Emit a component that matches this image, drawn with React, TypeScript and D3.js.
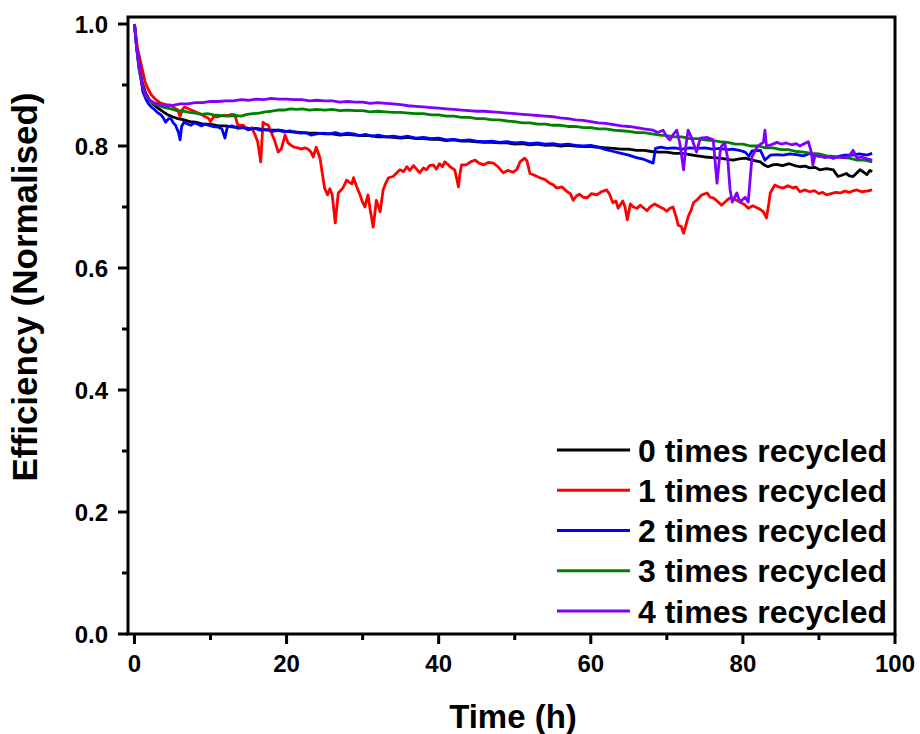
import React from "react";
import * as d3 from "d3";

const seriesNames = ["0 times recycled", "1 times recycled", "2 times recycled", "3 times recycled", "4 times recycled"];
const seriesColors = ["#000000", "#ff0000", "#0000ff", "#008000", "#8000ff"];
const xTicks = [0, 20, 40, 60, 80, 100];
const xTickLabels = ["0", "20", "40", "60", "80", "100"];
const yTicks = [0, 0.2, 0.4, 0.6, 0.8, 1.0];
const yTickLabels = ["0.0", "0.2", "0.4", "0.6", "0.8", "1.0"];
const xMinor = [10, 30, 50, 70, 90];
const yMinor = [0.1, 0.3, 0.5, 0.7, 0.9];

const s0: [number, number][] = [[0,1.0],[0.3,0.96],[0.6,0.93],[1.0,0.905],[1.5,0.886],[2.0,0.875],[2.5,0.868],[3.1,0.862],[3.8,0.856],[4.4,0.851],[5.0,0.848],[5.7,0.845],[6.5,0.843],[7.3,0.84],[8,0.839],[9,0.836],[10,0.836],[11,0.833],[12,0.833],[13,0.831],[14,0.831],[15,0.829],[16,0.829],[17,0.827],[18,0.826],[19,0.826],[20,0.824],[21,0.823],[22,0.822],[23,0.821],[24,0.821],[25,0.82],[26,0.82],[27,0.818],[28,0.819],[29,0.818],[30,0.817],[31,0.817],[32,0.815],[33,0.815],[34,0.814],[35,0.813],[36,0.814],[37,0.812],[38,0.812],[39,0.811],[40,0.811],[41,0.809],[42,0.81],[43,0.808],[44,0.808],[45,0.807],[46,0.806],[47,0.806],[48,0.805],[49,0.805],[50,0.803],[51,0.804],[52,0.802],[53,0.803],[54,0.801],[55,0.802],[56,0.8],[57,0.801],[58,0.8],[59,0.799],[60,0.799],[61,0.798],[62,0.797],[63,0.796],[64,0.795],[65,0.795],[66,0.793],[67,0.793],[68,0.791],[69,0.79],[70,0.79],[71,0.788],[72,0.788],[73,0.786],[74,0.784],[75,0.782],[76,0.781],[77,0.78],[78,0.778],[78.7,0.777],[79.5,0.779],[80.3,0.78],[81.2,0.777],[82.3,0.774],[82.8,0.769],[83.3,0.766],[83.9,0.769],[84.4,0.77],[85.2,0.768],[86.1,0.771],[86.8,0.768],[87.5,0.766],[88.2,0.767],[88.8,0.764],[89.5,0.765],[90.1,0.761],[91.0,0.763],[91.9,0.761],[92.2,0.755],[92.5,0.75],[93.0,0.752],[93.6,0.755],[94.0,0.751],[94.5,0.75],[95.0,0.756],[95.4,0.761],[95.9,0.757],[96.3,0.753],[96.7,0.76],[97,0.758]];

const s1: [number, number][] = [[0,1.0],[0.4,0.96],[0.9,0.933],[1.4,0.905],[1.8,0.893],[2.2,0.884],[2.8,0.876],[3.5,0.870],[4.2,0.868],[4.8,0.867],[5.3,0.862],[5.7,0.859],[6.0,0.848],[6.3,0.86],[6.6,0.864],[7.3,0.86],[8.0,0.856],[8.8,0.852],[9.3,0.848],[9.7,0.846],[10.0,0.84],[10.4,0.848],[11.0,0.848],[11.6,0.85],[12.3,0.85],[12.8,0.852],[13.2,0.851],[13.6,0.834],[14.3,0.834],[14.9,0.826],[15.4,0.83],[15.8,0.82],[16.2,0.807],[16.6,0.774],[16.9,0.839],[17.2,0.836],[17.6,0.834],[18.0,0.822],[18.4,0.81],[18.9,0.79],[19.3,0.795],[19.8,0.818],[20.2,0.805],[20.6,0.801],[21.0,0.798],[21.5,0.797],[21.9,0.795],[22.4,0.797],[22.8,0.795],[23.2,0.79],[23.5,0.782],[23.9,0.798],[24.4,0.78],[24.7,0.755],[25.0,0.731],[25.4,0.72],[25.7,0.73],[26.0,0.72],[26.4,0.674],[26.8,0.723],[27.4,0.731],[27.9,0.744],[28.3,0.74],[28.6,0.738],[28.8,0.748],[29.2,0.734],[29.6,0.722],[29.9,0.711],[30.3,0.70],[30.7,0.72],[31.0,0.695],[31.4,0.667],[31.8,0.711],[32.3,0.692],[32.7,0.728],[33.0,0.738],[33.4,0.748],[34,0.75],[34.5,0.756],[34.9,0.761],[35.4,0.758],[35.8,0.766],[36.2,0.76],[36.7,0.768],[37.1,0.762],[37.5,0.756],[38.0,0.764],[38.4,0.761],[38.8,0.768],[39.3,0.769],[39.7,0.762],[40.1,0.771],[40.5,0.766],[40.8,0.774],[41.2,0.77],[41.5,0.766],[42.1,0.761],[42.4,0.745],[42.6,0.733],[42.8,0.755],[43.0,0.769],[43.6,0.769],[44.2,0.774],[44.8,0.777],[45.3,0.772],[45.9,0.769],[46.5,0.773],[47.2,0.772],[47.8,0.766],[48.5,0.756],[49.1,0.76],[49.8,0.757],[50.3,0.762],[50.7,0.774],[51.3,0.78],[51.6,0.776],[52.0,0.755],[52.6,0.752],[53.3,0.748],[54.0,0.745],[54.6,0.739],[55.1,0.736],[55.5,0.731],[56.2,0.733],[56.9,0.725],[57.3,0.722],[57.7,0.711],[58.1,0.718],[58.5,0.721],[59.0,0.716],[59.5,0.715],[60.1,0.722],[60.8,0.72],[61.4,0.725],[62.1,0.728],[62.5,0.72],[62.9,0.707],[63.3,0.71],[63.6,0.698],[64.2,0.71],[64.5,0.70],[64.8,0.679],[65.2,0.705],[65.6,0.70],[66.1,0.698],[66.5,0.703],[67.0,0.698],[67.4,0.694],[67.8,0.70],[68.4,0.705],[69.1,0.70],[69.6,0.697],[70.0,0.693],[70.4,0.698],[70.8,0.70],[71.2,0.685],[71.5,0.67],[71.9,0.668],[72.2,0.657],[72.5,0.67],[72.8,0.684],[73.2,0.695],[73.5,0.707],[74.0,0.712],[74.6,0.72],[75.3,0.723],[75.7,0.716],[76.1,0.715],[76.6,0.71],[77.2,0.703],[77.8,0.71],[78.3,0.715],[79.0,0.712],[79.6,0.708],[80.2,0.704],[80.7,0.698],[81.3,0.702],[82.0,0.698],[82.4,0.695],[82.7,0.692],[83.1,0.682],[83.4,0.705],[83.6,0.723],[84.2,0.736],[84.7,0.733],[85.3,0.731],[85.9,0.735],[86.6,0.731],[87.0,0.733],[87.5,0.725],[88.1,0.728],[88.8,0.725],[89.4,0.727],[90.0,0.722],[90.5,0.724],[91.0,0.72],[91.6,0.722],[92.2,0.724],[92.8,0.723],[93.4,0.726],[94.0,0.724],[94.6,0.727],[95.0,0.728],[95.6,0.725],[96.3,0.726],[97,0.728]];

const s2: [number, number][] = [[0,1.0],[0.3,0.96],[0.7,0.93],[1.1,0.889],[1.5,0.877],[1.8,0.87],[2.2,0.864],[2.7,0.859],[3.1,0.854],[3.5,0.851],[3.8,0.846],[4.1,0.839],[4.5,0.845],[4.8,0.845],[5.1,0.838],[5.4,0.834],[5.8,0.822],[6.0,0.81],[6.2,0.832],[6.5,0.839],[7.0,0.836],[7.4,0.834],[7.9,0.838],[8.3,0.836],[8.8,0.833],[9.3,0.836],[9.7,0.834],[10.3,0.832],[11.0,0.831],[11.5,0.828],[11.9,0.813],[12.2,0.831],[12.8,0.833],[13.6,0.829],[14.3,0.83],[15,0.827],[15.8,0.829],[16.6,0.826],[17.4,0.827],[18.2,0.824],[18.9,0.826],[19.7,0.823],[20.4,0.825],[21.0,0.823],[21.8,0.821],[22.5,0.822],[23.2,0.818],[24,0.82],[24.8,0.821],[25.6,0.82],[26.4,0.822],[27.2,0.819],[28,0.821],[28.8,0.82],[29.6,0.817],[30.4,0.819],[31.2,0.816],[32,0.818],[33.1,0.815],[34,0.816],[35,0.814],[36,0.816],[37,0.813],[38,0.814],[39,0.812],[40,0.813],[41,0.81],[42,0.811],[43,0.809],[44,0.81],[45,0.808],[46,0.807],[47,0.808],[48,0.806],[49,0.807],[50,0.805],[51,0.806],[52,0.804],[53,0.805],[54,0.803],[55,0.804],[56,0.802],[57,0.803],[58,0.801],[59,0.8],[60,0.801],[61,0.798],[62,0.794],[63,0.791],[64,0.788],[65,0.785],[66,0.781],[67,0.778],[67.8,0.774],[68.2,0.772],[68.5,0.796],[69.2,0.798],[70,0.796],[71,0.797],[72,0.795],[73,0.797],[74,0.796],[75,0.797],[76,0.795],[77,0.796],[78,0.794],[78.7,0.795],[79.5,0.793],[80.3,0.79],[80.8,0.783],[81.2,0.792],[82.3,0.793],[82.9,0.777],[83.6,0.785],[84.4,0.786],[85.3,0.785],[86.2,0.787],[87,0.786],[88,0.784],[88.8,0.788],[89.6,0.784],[90.5,0.783],[91.3,0.782],[91.9,0.78],[92.6,0.783],[93.4,0.785],[94.5,0.785],[95.3,0.787],[96.3,0.785],[97,0.788]];

const s3: [number, number][] = [[0,1.0],[0.3,0.96],[0.6,0.925],[1.0,0.9],[1.5,0.882],[2.0,0.874],[2.6,0.869],[3.2,0.866],[4,0.863],[4.8,0.861],[5.6,0.858],[6.4,0.857],[7.2,0.855],[8,0.854],[8.8,0.852],[9.6,0.853],[10.4,0.851],[11.2,0.85],[12.3,0.849],[13.2,0.85],[14,0.849],[14.8,0.852],[15.6,0.853],[16.4,0.854],[17.2,0.856],[18,0.857],[18.9,0.859],[19.7,0.859],[20.5,0.861],[21.3,0.86],[22.1,0.861],[23,0.859],[24,0.86],[25,0.859],[26,0.86],[27,0.858],[28,0.859],[29,0.858],[30,0.858],[31,0.856],[32,0.857],[33,0.856],[34,0.855],[35,0.855],[36,0.854],[37,0.853],[38,0.853],[39,0.851],[40,0.851],[41,0.849],[42,0.849],[43,0.847],[44,0.847],[45,0.845],[46,0.845],[47,0.843],[48,0.843],[49,0.841],[50,0.84],[51,0.838],[52,0.838],[53,0.836],[54,0.836],[55,0.834],[56,0.834],[57,0.832],[58,0.832],[59,0.83],[60,0.83],[61,0.828],[62,0.828],[63,0.826],[64,0.825],[65,0.824],[66,0.822],[67,0.822],[68,0.82],[69.1,0.818],[70,0.817],[71,0.815],[72,0.815],[73,0.812],[74,0.812],[75,0.81],[76,0.809],[77,0.807],[78,0.806],[79,0.803],[80,0.803],[81,0.8],[82,0.8],[83,0.797],[84,0.797],[85,0.794],[86,0.794],[87,0.791],[88,0.79],[89,0.788],[90,0.787],[91,0.784],[92,0.783],[93,0.781],[94,0.78],[95,0.777],[96,0.777],[97,0.774]];

const s4: [number, number][] = [[0,1.0],[0.3,0.96],[0.6,0.93],[1.0,0.9],[1.5,0.883],[2.0,0.875],[2.6,0.871],[3.3,0.868],[4.4,0.866],[5.2,0.867],[6,0.869],[7,0.869],[8,0.871],[9,0.871],[10,0.873],[11,0.873],[12,0.874],[13,0.874],[14,0.876],[15,0.875],[16,0.877],[17,0.876],[18,0.878],[19,0.877],[20,0.877],[21,0.876],[22,0.876],[23,0.874],[24,0.875],[25,0.874],[26,0.874],[27,0.872],[28,0.873],[29,0.872],[30,0.872],[31,0.87],[32,0.871],[33,0.87],[34,0.869],[35,0.868],[36,0.866],[37,0.865],[38,0.864],[39,0.863],[40,0.862],[41,0.861],[42,0.86],[43,0.859],[44,0.858],[45,0.857],[46,0.857],[47,0.856],[48,0.855],[49,0.854],[50,0.853],[51,0.852],[52,0.851],[53,0.85],[54,0.849],[55,0.848],[56,0.846],[57,0.845],[58,0.843],[59,0.842],[60,0.84],[61,0.838],[62,0.837],[63,0.835],[64,0.833],[65,0.832],[66,0.83],[67,0.828],[68.2,0.826],[68.8,0.822],[69.5,0.826],[70.0,0.815],[70.4,0.81],[70.9,0.82],[71.3,0.826],[71.7,0.805],[72.2,0.761],[72.5,0.8],[72.8,0.826],[73.3,0.812],[73.9,0.79],[74.4,0.813],[75.3,0.814],[76.1,0.81],[76.6,0.739],[77.0,0.79],[77.2,0.80],[77.6,0.805],[78.0,0.78],[78.3,0.73],[78.6,0.708],[79.2,0.723],[79.6,0.708],[80.3,0.716],[80.7,0.708],[81.2,0.782],[81.8,0.797],[82.3,0.803],[82.7,0.806],[82.9,0.826],[83.1,0.80],[83.7,0.802],[84.5,0.806],[85.1,0.803],[85.7,0.805],[86.4,0.802],[87.0,0.804],[87.5,0.80],[88.1,0.804],[88.6,0.807],[89.0,0.79],[89.2,0.769],[89.5,0.785],[90.2,0.783],[90.8,0.781],[91.4,0.783],[91.9,0.78],[92.6,0.782],[93.3,0.781],[94.0,0.784],[94.5,0.793],[95.0,0.78],[95.6,0.782],[96.3,0.779],[97,0.777]];

const allSeries = [s0, s1, s2, s3, s4];

const W = 920, H = 734;
const L = 128, R = 895, T = 17, B = 634;
const FONT = "'Liberation Sans', Arial, sans-serif";

export default function App() {
  const x = d3.scaleLinear().domain([-0.85, 100]).range([L, R]);
  const y = d3.scaleLinear().domain([0, 1.0115]).range([B, T]);
  const line = d3.line<[number, number]>().x(d => x(d[0])).y(d => y(d[1]));
  const legendY = d3.scalePoint<string>().domain(seriesNames).range([450, 611]);

  return (
    <svg width={W} height={H} style={{ position: "absolute", left: 0, top: 0 }} fontFamily={FONT} fontWeight="bold">
      <rect width={W} height={H} fill="#fff" />
      <defs>
        <clipPath id="clip"><rect x={L} y={T} width={R - L} height={B - T} /></clipPath>
      </defs>
      <g clipPath="url(#clip)">
        {allSeries.map((s, i) => (
          <path key={i} d={line(s) || ""} fill="none" stroke={seriesColors[i]} strokeWidth={2.8} strokeLinejoin="round" />
        ))}
      </g>
      <rect x={L} y={T} width={R - L} height={B - T} fill="none" stroke="#000" strokeWidth={3} />
      {yTicks.map((t, i) => (
        <g key={"y" + i}>
          <line x1={L - 10} x2={L} y1={y(t)} y2={y(t)} stroke="#000" strokeWidth={3} />
          <text x={L - 20} y={y(t)} dy="0.36em" textAnchor="end" fontSize={24}>{yTickLabels[i]}</text>
        </g>
      ))}
      {yMinor.map((t, i) => (
        <line key={"ym" + i} x1={L - 6} x2={L} y1={y(t)} y2={y(t)} stroke="#000" strokeWidth={3} />
      ))}
      {xTicks.map((t, i) => (
        <g key={"x" + i}>
          <line x1={x(t)} x2={x(t)} y1={B} y2={B + 10} stroke="#000" strokeWidth={3} />
          <text x={x(t)} y={B + 38} textAnchor="middle" fontSize={24}>{xTickLabels[i]}</text>
        </g>
      ))}
      {xMinor.map((t, i) => (
        <line key={"xm" + i} x1={x(t)} x2={x(t)} y1={B} y2={B + 6} stroke="#000" strokeWidth={3} />
      ))}
      <text x={513} y={728} textAnchor="middle" fontSize={33}>Time (h)</text>
      <text transform={`translate(37, 287) rotate(-90)`} textAnchor="middle" fontSize={35}>Efficiency (Normalised)</text>
      {seriesNames.map((n, i) => (
        <g key={"l" + i}>
          <line x1={557} x2={630} y1={legendY(n)} y2={legendY(n)} stroke={seriesColors[i]} strokeWidth={2.8} />
          <text x={638} y={legendY(n)} dy="0.36em" fontSize={32}>{n}</text>
        </g>
      ))}
    </svg>
  );
}
